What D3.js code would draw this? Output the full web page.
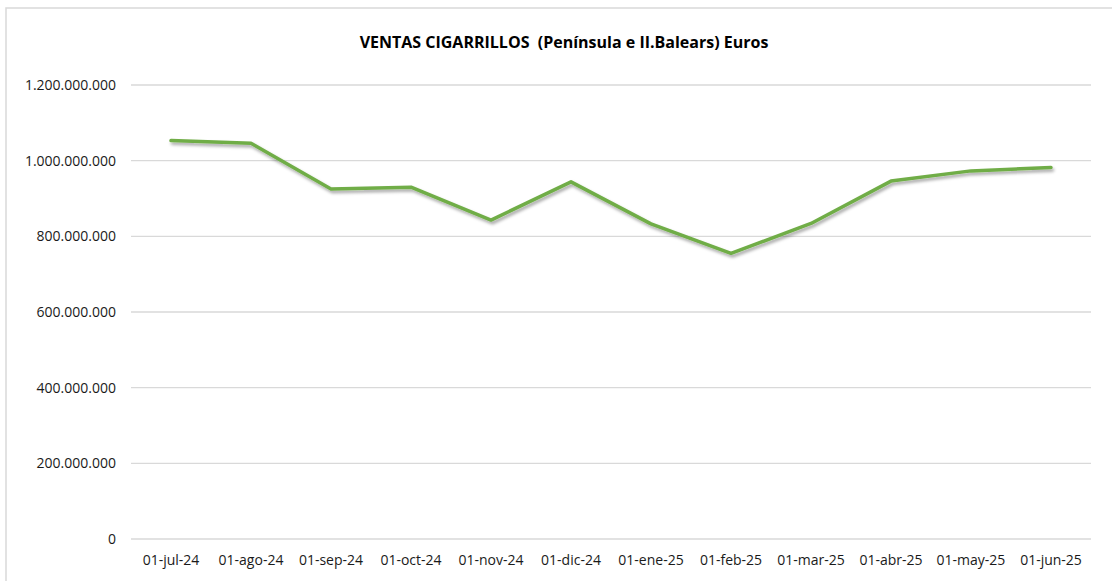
<!DOCTYPE html>
<html>
<head>
<meta charset="utf-8">
<script src="https://cdn.jsdelivr.net/npm/d3@7"></script>
<style>
  body { margin: 0; background: #fff; }
  svg text { font-family: "Open Sans", sans-serif; fill: #1a1a1a; }
</style>
</head>
<body>
<div id="chart"></div>
<script>
// Data
const months = ["01-jul-24", "01-ago-24", "01-sep-24", "01-oct-24", "01-nov-24", "01-dic-24",
                "01-ene-25", "01-feb-25", "01-mar-25", "01-abr-25", "01-may-25", "01-jun-25"];
const ventas = [1053e6, 1046e6, 925e6, 930e6, 843e6, 944e6,
                833e6, 755e6, 834e6, 946e6, 973e6, 982e6];
const yTicks = [0, 200e6, 400e6, 600e6, 800e6, 1000e6, 1200e6];
const title = "VENTAS CIGARRILLOS  (Península e II.Balears) Euros";

const width = 1112, height = 581;
const margin = { top: 85, right: 21, bottom: 42, left: 131 };

const svg = d3.select("#chart").append("svg")
    .attr("width", width)
    .attr("height", height);

// drop shadow for the line
const filter = svg.append("defs").append("filter")
    .attr("id", "shadow")
    .attr("x", "-5%").attr("y", "-20%")
    .attr("width", "110%").attr("height", "140%");
filter.append("feDropShadow")
    .attr("dx", 1.5).attr("dy", 2.5)
    .attr("stdDeviation", 1.6)
    .attr("flood-color", "#000")
    .attr("flood-opacity", 0.35);

// chart frame (left and top edges visible)
svg.append("path")
    .attr("d", `M6,${height} V8 H${width}`)
    .attr("fill", "none")
    .attr("stroke", "#d9d9d9")
    .attr("stroke-width", 1.5);

const x = d3.scaleBand()
    .domain(months)
    .range([margin.left, width - margin.right]);

const y = d3.scaleLinear()
    .domain([0, 1200e6])
    .range([height - margin.bottom, margin.top]);

const fmt = v => v === 0 ? "0" : d3.format(",")(v).replace(/,/g, ".");

// gridlines
svg.append("g")
    .selectAll("line")
    .data(yTicks)
    .join("line")
    .attr("x1", margin.left)
    .attr("x2", width - margin.right)
    .attr("y1", d => y(d))
    .attr("y2", d => y(d))
    .attr("stroke", "#d9d9d9")
    .attr("stroke-width", 1.3);

// y labels
svg.append("g")
    .selectAll("text")
    .data(yTicks)
    .join("text")
    .attr("x", 116)
    .attr("y", d => y(d))
    .attr("dy", "0.35em")
    .attr("text-anchor", "end")
    .style("font-size", "14px")
    .text(fmt);

// x labels
svg.append("g")
    .selectAll("text")
    .data(months)
    .join("text")
    .attr("x", d => x(d) + x.bandwidth() / 2)
    .attr("y", 565)
    .attr("text-anchor", "middle")
    .style("font-size", "14px")
    .text(d => d);

// line
const line = d3.line()
    .x((d, i) => x(months[i]) + x.bandwidth() / 2)
    .y(d => y(d));

svg.append("path")
    .datum(ventas)
    .attr("d", line)
    .attr("fill", "none")
    .attr("stroke", "#70ad47")
    .attr("stroke-width", 3.5)
    .attr("stroke-linecap", "round")
    .attr("stroke-linejoin", "round")
    .attr("filter", "url(#shadow)");

// title
svg.append("text")
    .attr("x", 564)
    .attr("y", 48)
    .attr("text-anchor", "middle")
    .attr("xml:space", "preserve")
    .style("white-space", "pre")
    .style("font-size", "16px")
    .style("font-weight", "bold")
    .style("fill", "#000")
    .text(title);
</script>
</body>
</html>
